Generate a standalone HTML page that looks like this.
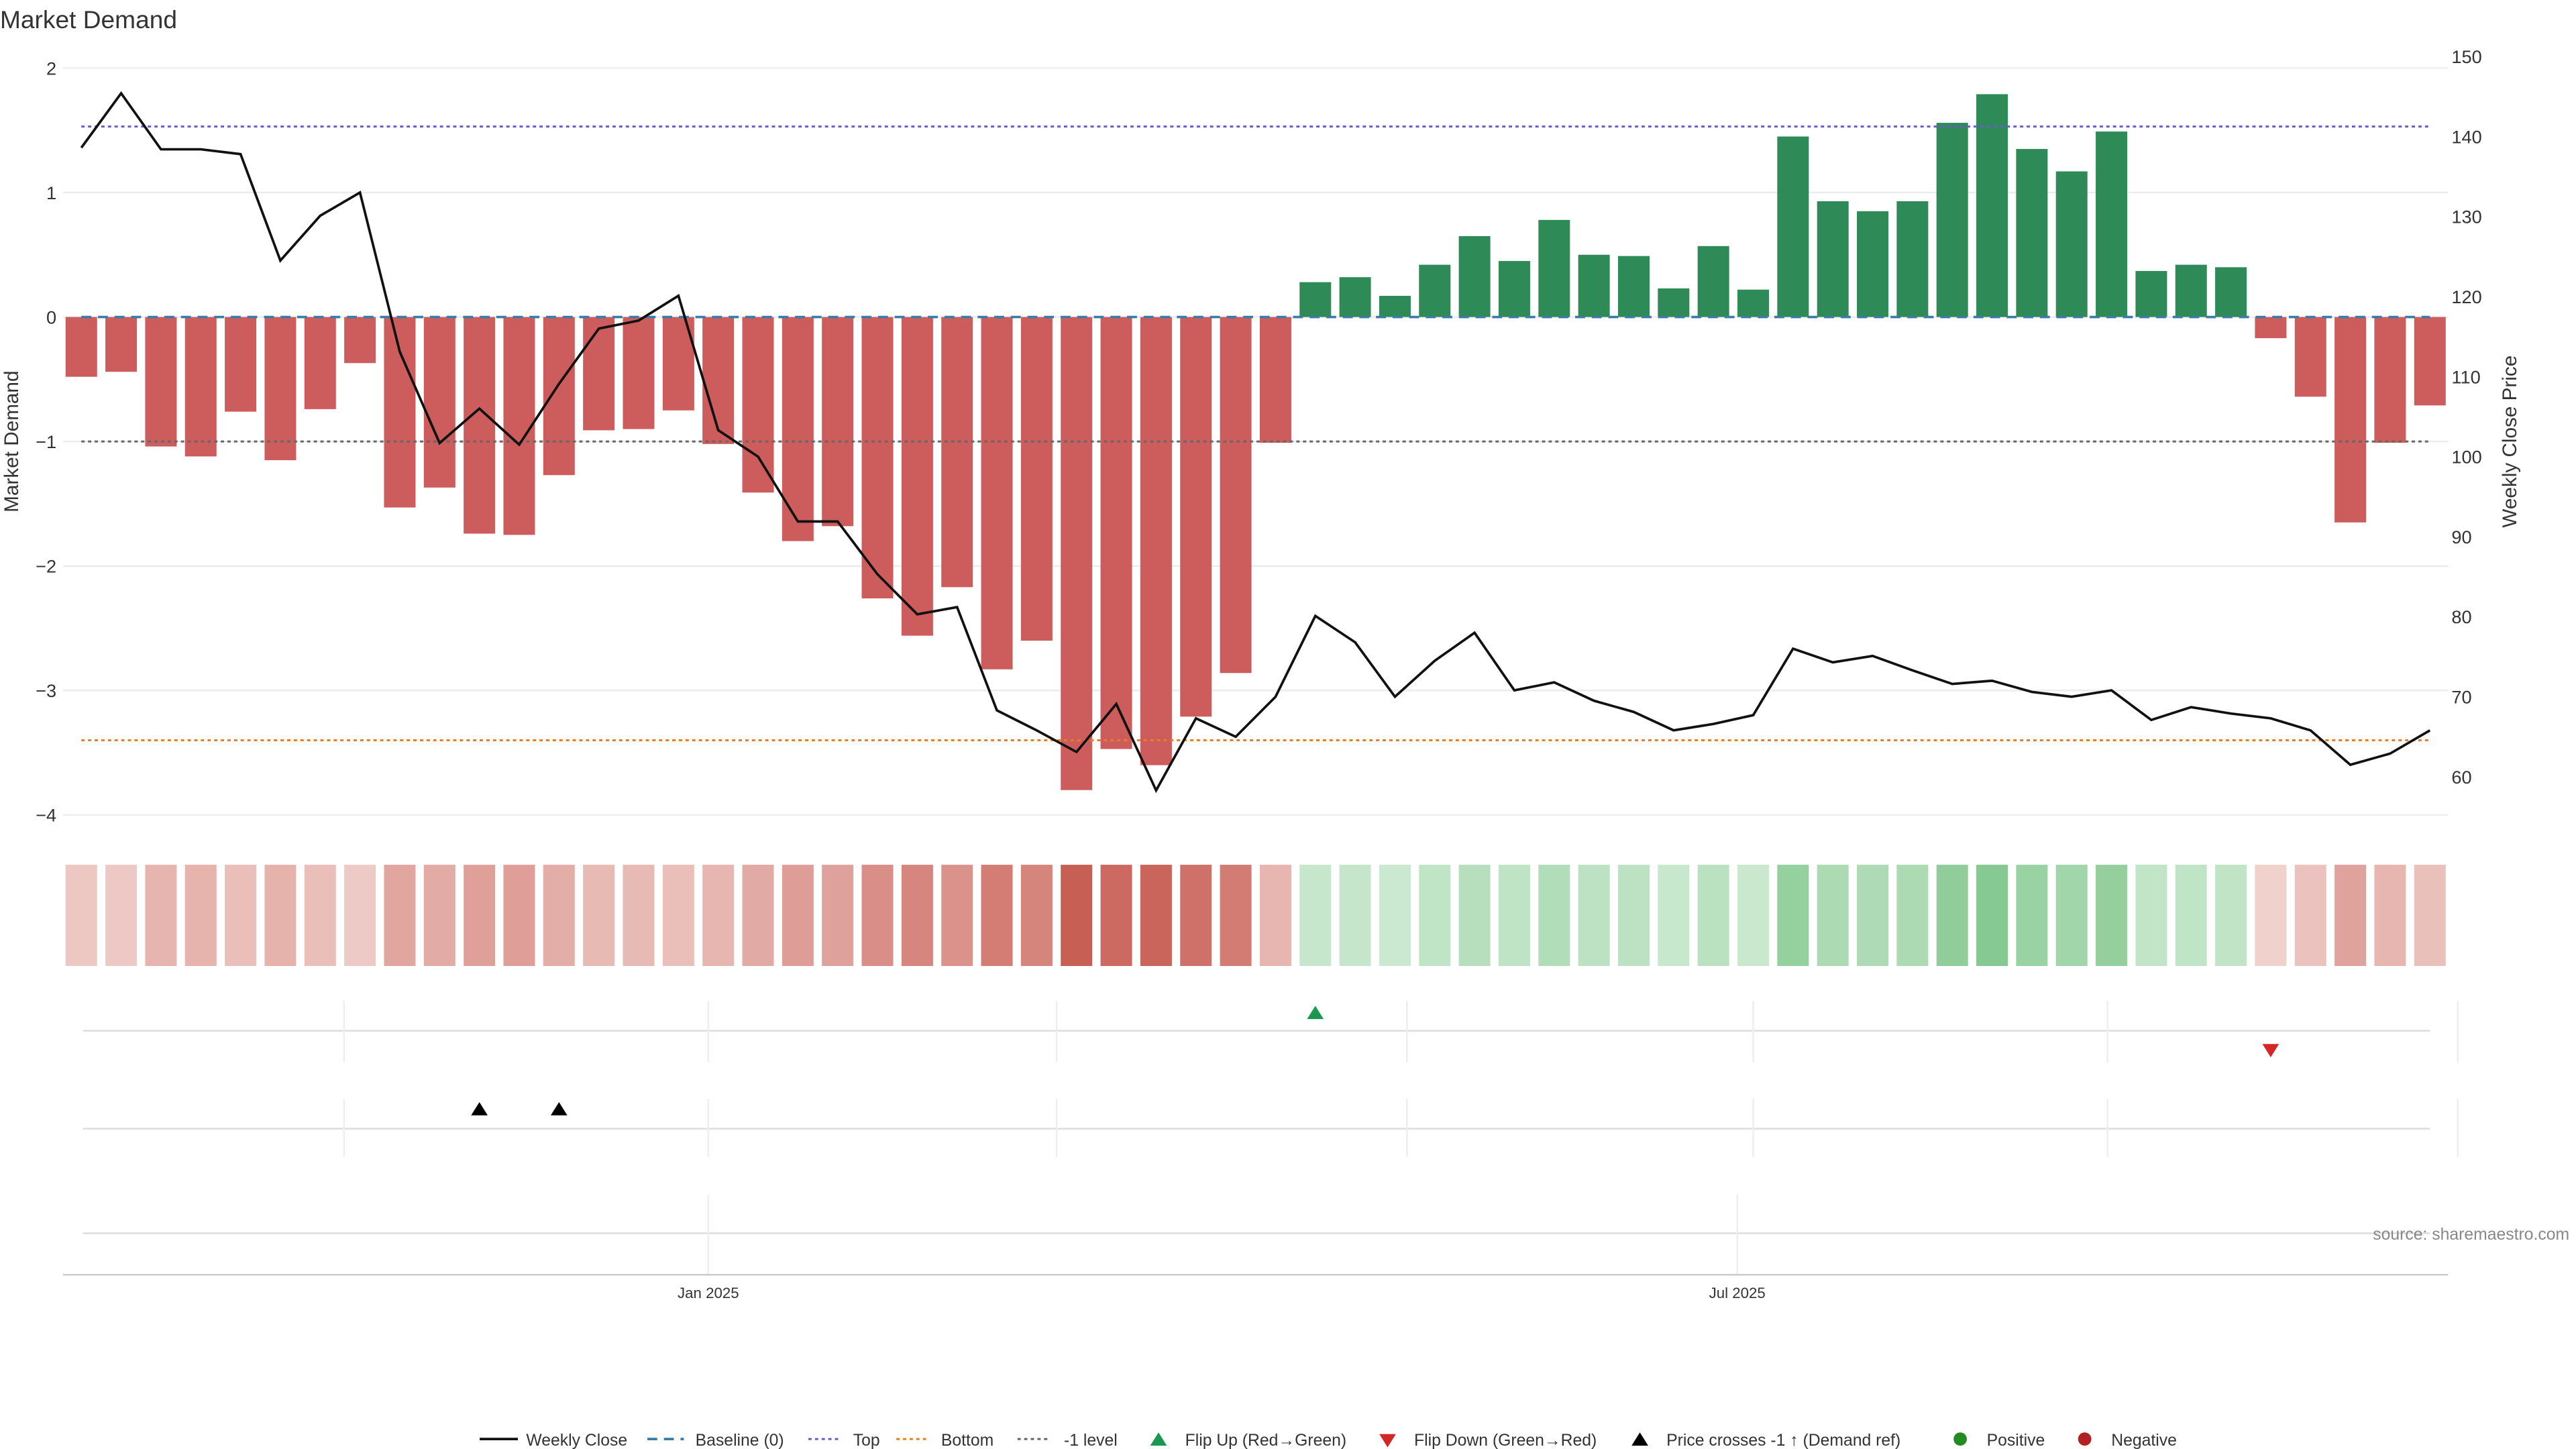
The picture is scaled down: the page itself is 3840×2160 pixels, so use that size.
<!DOCTYPE html>
<html><head><meta charset="utf-8"><style>
html,body{margin:0;padding:0;background:#fff;}
svg{display:block;font-family:"Liberation Sans","DejaVu Sans",sans-serif;}
</style></head><body>
<svg id="chart" width="3840" height="2160" viewBox="0 0 1552 873" xmlns="http://www.w3.org/2000/svg">
<text x="0" y="17" font-size="15" fill="#333">Market Demand</text>
<g id="grid"></g>
<g id="bars"></g>
<g id="lines"></g>
<g id="heat"></g>
<g id="events"></g>
<g id="axes"></g>
<g id="legend" font-size="10" fill="#333"></g>
</svg>
<script>
const demand=[-0.48,-0.44,-1.04,-1.12,-0.76,-1.15,-0.74,-0.37,-1.53,-1.37,-1.74,-1.75,-1.27,-0.91,-0.90,-0.75,-1.02,-1.41,-1.80,-1.68,-2.26,-2.56,-2.17,-2.83,-2.60,-3.80,-3.47,-3.60,-3.21,-2.86,-1.01,0.28,0.32,0.17,0.42,0.65,0.45,0.78,0.50,0.49,0.23,0.57,0.22,1.45,0.93,0.85,0.93,1.56,1.79,1.35,1.17,1.49,0.37,0.42,0.40,-0.17,-0.64,-1.65,-1.01,-0.71];
const price=[138.6,145.4,138.4,138.4,137.8,124.5,130.1,133.0,113.1,101.7,106.0,101.5,109.1,116.0,117.0,120.1,103.3,100.0,91.9,91.9,85.3,80.3,81.2,68.3,65.8,63.1,69.1,58.3,67.3,65.0,70.0,80.1,76.8,70.0,74.5,78.0,70.8,71.8,69.5,68.1,65.8,66.6,67.7,76.0,74.3,75.1,73.3,71.6,72.0,70.6,70.0,70.8,67.1,68.7,67.9,67.3,65.8,61.5,62.9,65.8];
const leftTicks=[2,1,0,-1,-2,-3,-4];
const rightTicks=[150,140,130,120,110,100,90,80,70,60];
const topLevel=1.53, bottomLevel=-3.4, minusOneLevel=-1;
const flipUpIdx=[31], flipDownIdx=[55], crossIdx=[10,12];
const dateTicks=["Jan 2025","Jul 2025"], dateTickIdx=[15.75,41.6];
const monthGridIdx=[6.6,15.75,24.5,33.3,42,50.9,59.7];

const NS="http://www.w3.org/2000/svg";
function mk(parent,tag,attrs,name){const e=document.createElementNS(NS,tag);for(const k in attrs)e.setAttribute(k,attrs[k]);


document.getElementById(parent).appendChild(e);return e;}
const X0=38,X1=1475;
const xi=i=>49+i*(1464-49)/(demand.length-1);
const yL=v=>191-75*v;
const yR=p=>468-(p-60)*4.822;
const bw=19;

leftTicks.forEach(t=>{
 mk('grid','line',{x1:X0,x2:X1,y1:yL(t),y2:yL(t),stroke:'#ececec','stroke-width':1},'grid-line');
 const tx=mk('axes','text',{x:34,y:yL(t)+4,'font-size':11,fill:'#333','text-anchor':'end'},'left-tick-label');tx.textContent=t<0?'−'+(-t):t;
});
rightTicks.forEach(t=>{const tx=mk('axes','text',{x:1477,y:yR(t)+4,'font-size':11,fill:'#333'},'right-tick-label');tx.textContent=t;});
let t1=mk('axes','text',{x:11,y:266,'font-size':12,fill:'#333','text-anchor':'middle',transform:'rotate(-90 11 266)'},'y-axis-title');t1.textContent='Market Demand';
let t2=mk('axes','text',{x:1516,y:266,'font-size':12,fill:'#333','text-anchor':'middle',transform:'rotate(-90 1516 266)'},'y2-axis-title');t2.textContent='Weekly Close Price';

demand.forEach((v,i)=>{
 const y=v>=0?yL(v):yL(0), h=Math.abs(yL(v)-yL(0));
 mk('bars','rect',{x:xi(i)-bw/2,y:y,width:bw,height:h,fill:v>=0?'#2e8b57':'#cd5c5c'},'demand-bar');
});
mk('lines','line',{x1:49,x2:1464,y1:yL(0),y2:yL(0),stroke:'#3a7ca5','stroke-width':1.5,'stroke-dasharray':'6 4'},'baseline');
mk('lines','line',{x1:49,x2:1464,y1:yL(topLevel),y2:yL(topLevel),stroke:'#6a5acd','stroke-width':1.2,'stroke-dasharray':'2 2'},'top-line');
mk('lines','line',{x1:49,x2:1464,y1:yL(bottomLevel),y2:yL(bottomLevel),stroke:'#e67e22','stroke-width':1.2,'stroke-dasharray':'2 2'},'bottom-line');
mk('lines','line',{x1:49,x2:1464,y1:yL(minusOneLevel),y2:yL(minusOneLevel),stroke:'#666','stroke-width':1.2,'stroke-dasharray':'2 2'},'minus-one-line');
mk('lines','polyline',{points:price.map((p,i)=>xi(i)+','+yR(p)).join(' '),fill:'none',stroke:'#111','stroke-width':1.5},'weekly-close-line');

const maxNeg=Math.max(...demand.map(v=>v<0?-v:0)),maxPos=Math.max(...demand);
function mix(a,b,t){return 'rgb('+a.map((c,k)=>Math.round(c+(b[k]-c)*t)).join(',')+')';}
demand.forEach((v,i)=>{
 let col;
 if(v>=0){col=mix([210,236,214],[135,201,146],v/maxPos);}
 else{col=mix([242,214,210],[200,95,85],(-v)/maxNeg);}
 mk('heat','rect',{x:xi(i)-bw/2,y:521,width:bw,height:61,fill:col},'heatmap-cell');
});

[[603,640,621],[662,697,680],[720,768,743]].forEach((p,k)=>{
 mk('events','line',{x1:50,x2:1464,y1:p[2],y2:p[2],stroke:'#ddd','stroke-width':1},'event-baseline');
 (k<2?monthGridIdx:[15.75,41.6]).forEach(m=>mk('events','line',{x1:xi(m),x2:xi(m),y1:p[0],y2:p[1],stroke:'#eee','stroke-width':1},'event-grid'));
});
flipUpIdx.forEach(i=>{const x=xi(i);mk('events','polygon',{points:`${x-5},614 ${x+5},614 ${x},606`,fill:'#1a9850'},'flip-up-marker');});
flipDownIdx.forEach(i=>{const x=xi(i);mk('events','polygon',{points:`${x-5},629 ${x+5},629 ${x},637`,fill:'#d62728'},'flip-down-marker');});
crossIdx.forEach(i=>{const x=xi(i);mk('events','polygon',{points:`${x-5},672 ${x+5},672 ${x},664`,fill:'#000'},'price-cross-marker');});
mk('axes','line',{x1:X0,x2:X1,y1:768,y2:768,stroke:'#ccc','stroke-width':1},'x-axis-line');
dateTicks.forEach((d,k)=>{const tx=mk('axes','text',{x:xi(dateTickIdx[k]),y:782,'font-size':9,fill:'#333','text-anchor':'middle'},'x-tick-label');tx.textContent=d;});
let src=mk('axes','text',{x:1548,y:747,'font-size':10,fill:'#888','text-anchor':'end'},'source-label');src.textContent='source: sharemaestro.com';

function lt(x,s,name){const t=mk('legend','text',{x:x,y:871,'font-size':10,fill:'#333'},name);t.textContent=s;}
mk('legend','line',{x1:289,x2:312,y1:867,y2:867,stroke:'#111','stroke-width':1.5},'legend-weekly-close');lt(317,'Weekly Close','legend-weekly-close-label');
mk('legend','line',{x1:390,x2:412,y1:867,y2:867,stroke:'#3a7ca5','stroke-width':1.5,'stroke-dasharray':'6 4'},'legend-baseline');lt(419,'Baseline (0)','legend-baseline-label');
mk('legend','line',{x1:487,x2:507,y1:867,y2:867,stroke:'#6a5acd','stroke-width':1.2,'stroke-dasharray':'2 2'},'legend-top');lt(514,'Top','legend-top-label');
mk('legend','line',{x1:540,x2:560,y1:867,y2:867,stroke:'#e67e22','stroke-width':1.2,'stroke-dasharray':'2 2'},'legend-bottom');lt(567,'Bottom','legend-bottom-label');
mk('legend','line',{x1:613,x2:633,y1:867,y2:867,stroke:'#666','stroke-width':1.2,'stroke-dasharray':'2 2'},'legend-minus-one');lt(641,'-1 level','legend-minus-one-label');
mk('legend','polygon',{points:'693,871 703,871 698,863',fill:'#1a9850'},'legend-flip-up');lt(714,'Flip Up (Red→Green)','legend-flip-up-label');
mk('legend','polygon',{points:'831,864 841,864 836,872',fill:'#d62728'},'legend-flip-down');lt(852,'Flip Down (Green→Red)','legend-flip-down-label');
mk('legend','polygon',{points:'983,871 993,871 988,863',fill:'#000'},'legend-price-cross');lt(1004,'Price crosses -1 ↑ (Demand ref)','legend-price-cross-label');
mk('legend','circle',{cx:1181,cy:867,r:4,fill:'#228b22'},'legend-positive');lt(1197,'Positive','legend-positive-label');
mk('legend','circle',{cx:1256,cy:867,r:4,fill:'#b22222'},'legend-negative');lt(1272,'Negative','legend-negative-label');
</script>
</body></html>
